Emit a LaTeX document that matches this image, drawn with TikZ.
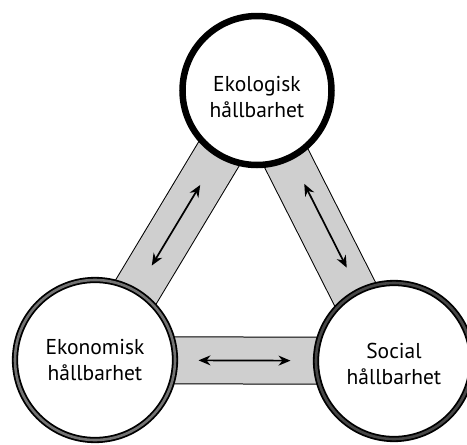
\documentclass[tikz,border=0pt]{standalone}
\usepackage{fontspec}
\setmainfont{PT Sans}
\usetikzlibrary{arrows.meta,calc,backgrounds}
\begin{document}
\begin{tikzpicture}[x=1pt,y=-1pt,
  ring/.style={circle, draw=black, fill=white, line width=6.5pt, inner sep=0pt},
  dring/.style={circle, draw=black, fill=white, line width=1.8pt, double=#1, double distance=2.6pt, inner sep=0pt},
  lbl/.style={align=center, font=\fontsize{21.5}{26}\selectfont, inner sep=0pt},
  band/.style={draw=black, line width=1pt, double=black!19, double distance=46pt},
  arr/.style={{Stealth[length=12pt,width=10pt]}-{Stealth[length=12pt,width=10pt]}, line width=1.7pt}]
\useasboundingbox (0,0) rectangle (467,445);
\node[ring, minimum size=149pt] (eko) at (257,90.5) {};
\node[dring=black!55, minimum size=160pt] (ekon) at (95,360) {};
\node[dring=black!72, minimum size=156pt] (soc) at (394,361) {};
\node[lbl] (ekot) at ($(eko)+(0,7)$) {Ekologisk\\hållbarhet};
\node[lbl] (ekont) at (ekon) {Ekonomisk\\hållbarhet};
\node[lbl] (soct) at ($(soc)+(0,3)$) {Social\\hållbarhet};
\begin{scope}[on background layer]
  \draw[band] (eko.center) -- (ekon.center);
  \draw[band] ($(eko.center)+(-4,2)$) -- ($(soc.center)+(-4,2)$);
  \draw[band] (ekon.center) -- (soc.center);
\end{scope}
\coordinate (m1) at ($(eko)!0.5!(ekon)$);
\coordinate (m2) at ($(eko)!0.5!(soc)$);
\coordinate (m3) at ($(ekon)!0.5!(soc)$);
\draw[arr] ($(m1)!47pt!(eko)$) -- ($(m1)!47pt!(ekon)$);
\draw[arr] ($(m2)!47pt!(eko)$) -- ($(m2)!47pt!(soc)$);
\draw[arr] ($(m3)!46pt!(ekon)$) -- ($(m3)!46pt!(soc)$);
\end{tikzpicture}
\end{document}
